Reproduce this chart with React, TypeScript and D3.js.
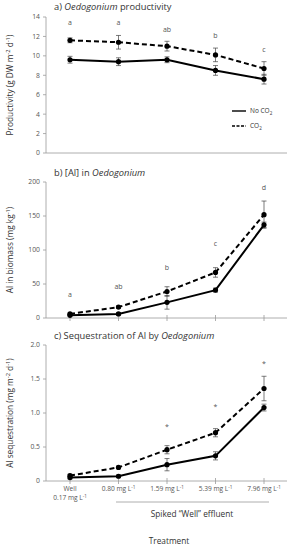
import React from "react";
import * as d3 from "d3";

const treatments = ["Well", "0.80", "1.59", "5.39", "7.96"];
const tickTop = ["Well", "0.80 mg L", "1.59 mg L", "5.39 mg L", "7.96 mg L"];

// a) productivity (g DW m-2 d-1)
const prodNo = [9.6, 9.4, 9.6, 8.5, 7.6];
const prodNoErr = [0.35, 0.4, 0.3, 0.5, 0.5];
const prodCo2 = [11.6, 11.4, 11.0, 10.1, 8.7];
const prodCo2Err = [0.25, 0.7, 0.5, 0.7, 0.7];
const prodLetters = ["a", "a", "ab", "b", "c"];
const prodLetterY = [13.2, 13.2, 12.5, 11.8, 10.4];

// b) Al in biomass (mg kg-1)
const alNo = [4, 6, 23, 41, 137];
const alNoErr = [1, 2, 10, 3, 4];
const alCo2 = [6, 16, 39, 67, 152];
const alCo2Err = [1, 2, 7, 7, 20];
const alLetters = ["a", "ab", "b", "c", "d"];
const alLetterY = [31, 43, 71, 106, 188];

// c) sequestration (mg m-2 d-1)
const seqNo = [0.05, 0.07, 0.24, 0.37, 1.08];
const seqNoErr = [0.02, 0.02, 0.09, 0.06, 0.05];
const seqCo2 = [0.08, 0.2, 0.46, 0.71, 1.36];
const seqCo2Err = [0.02, 0.02, 0.06, 0.06, 0.18];
const seqStars = ["", "", "*", "*", "*"];
const seqStarY = [0, 0, 0.76, 1.06, 1.69];

const W = 293;
const H = 550;
const left = 46;
const right = 287;
const font = "'Open Sans', 'Liberation Sans', sans-serif";
const grey = "#9a9a9a";
const txt = "#555";

const x = d3.scalePoint<string>().domain(treatments).range([70, 264]);

type PanelProps = {
  title: React.ReactNode;
  ylabel: React.ReactNode;
  y: d3.ScaleLinear<number, number>;
  ticks: number[];
  fmt: (v: number) => string;
  no: number[];
  noErr: number[];
  co2: number[];
  co2Err: number[];
  labels: string[];
  labelY: number[];
  titleY: number;
  xTicks: boolean;
};

function Panel(p: PanelProps) {
  const [y0, y1] = p.y.range();
  const line = (vals: number[]) =>
    d3
      .line<number>()
      .x((_, i) => x(treatments[i])!)
      .y((v) => p.y(v))(vals)!;
  const errs = (vals: number[], err: number[]) =>
    vals.map((v, i) => {
      const cx = x(treatments[i])!;
      const a = p.y(v + err[i]);
      const b = p.y(v - err[i]);
      return (
        <g key={i} stroke="#444" strokeWidth={0.7}>
          <line x1={cx} x2={cx} y1={a} y2={b} />
          <line x1={cx - 2.5} x2={cx + 2.5} y1={a} y2={a} />
          <line x1={cx - 2.5} x2={cx + 2.5} y1={b} y2={b} />
        </g>
      );
    });
  return (
    <g>
      <text x={54} y={p.titleY} fontSize={9.3} fill="#333">
        {p.title}
      </text>
      <line x1={left} x2={left} y1={y0} y2={y1} stroke={grey} strokeWidth={0.8} />
      <line x1={left} x2={right} y1={y0} y2={y0} stroke={grey} strokeWidth={0.8} />
      {p.ticks.map((t) => (
        <g key={t}>
          <line x1={left - 3} x2={left} y1={p.y(t)} y2={p.y(t)} stroke={grey} strokeWidth={0.8} />
          <text x={left - 6} y={p.y(t)} dy="0.35em" textAnchor="end" fontSize={6.8} fill={txt}>
            {p.fmt(t)}
          </text>
        </g>
      ))}
      {p.xTicks &&
        treatments.map((t) => (
          <line key={t} x1={x(t)!} x2={x(t)!} y1={y0 - 3} y2={y0 + 3} stroke={grey} strokeWidth={0.8} />
        ))}
      <g transform={`translate(13,${(y0 + y1) / 2}) rotate(-90)`}>
        <text textAnchor="middle" fontSize={8.3} fill="#333">
          {p.ylabel}
        </text>
      </g>
      {errs(p.no, p.noErr)}
      {errs(p.co2, p.co2Err)}
      <path d={line(p.no)} fill="none" stroke="#000" strokeWidth={2} />
      <path d={line(p.co2)} fill="none" stroke="#000" strokeWidth={2} strokeDasharray="5,3" />
      {p.no.map((v, i) => (
        <circle key={"n" + i} cx={x(treatments[i])!} cy={p.y(v)} r={2.6} fill="#000" />
      ))}
      {p.co2.map((v, i) => (
        <circle key={"c" + i} cx={x(treatments[i])!} cy={p.y(v)} r={2.6} fill="#000" />
      ))}
      {p.labels.map((l, i) =>
        l ? (
          <text key={"l" + i} x={x(treatments[i])!} y={p.y(p.labelY[i])} textAnchor="middle" fontSize={7} fill={txt}>
            {l}
          </text>
        ) : null
      )}
    </g>
  );
}

export default function App() {
  const yA = d3.scaleLinear().domain([0, 14]).range([153, 17]);
  const yB = d3.scaleLinear().domain([0, 200]).range([318, 182]);
  const yC = d3.scaleLinear().domain([0, 2]).range([481, 345]);

  return (
    <svg
      width={W}
      height={H}
      style={{ position: "absolute", left: 0, top: 0, background: "#fff" }}
      fontFamily={font}
    >
      <Panel
        title={<>a) <tspan fontStyle="italic">Oedogonium</tspan> productivity</>}
        ylabel={
          <>
            Productivity (g DW m<tspan fontSize="0.7em" dy={-3}>-2</tspan>
            <tspan dy={3}> d</tspan>
            <tspan fontSize="0.7em" dy={-3}>-1</tspan>
            <tspan dy={3}>)</tspan>
          </>
        }
        y={yA}
        ticks={d3.range(0, 15, 2)}
        fmt={(v) => String(v)}
        no={prodNo}
        noErr={prodNoErr}
        co2={prodCo2}
        co2Err={prodCo2Err}
        labels={prodLetters}
        labelY={prodLetterY}
        titleY={10}
        xTicks={false}
      />
      {/* legend */}
      <line x1={232} x2={246} y1={111} y2={111} stroke="#000" strokeWidth={1.4} />
      <text x={250} y={111} dy="0.35em" fontSize={6.5} fill="#333">
        No CO<tspan fontSize="0.7em" dy={1.5}>2</tspan>
      </text>
      <line x1={232} x2={246} y1={126} y2={126} stroke="#000" strokeWidth={1.4} strokeDasharray="3,1.5" />
      <text x={250} y={126} dy="0.35em" fontSize={6.5} fill="#333">
        CO<tspan fontSize="0.7em" dy={1.5}>2</tspan>
      </text>

      <Panel
        title={<>b) [Al] in <tspan fontStyle="italic">Oedogonium</tspan></>}
        ylabel={
          <>
            Al in biomass (mg kg<tspan fontSize="0.7em" dy={-3}>-1</tspan>
            <tspan dy={3}>)</tspan>
          </>
        }
        y={yB}
        ticks={d3.range(0, 201, 50)}
        fmt={(v) => String(v)}
        no={alNo}
        noErr={alNoErr}
        co2={alCo2}
        co2Err={alCo2Err}
        labels={alLetters}
        labelY={alLetterY}
        titleY={176}
        xTicks={true}
      />

      <Panel
        title={<>c) Sequestration of Al by <tspan fontStyle="italic">Oedogonium</tspan></>}
        ylabel={
          <>
            Al sequestration (mg m<tspan fontSize="0.7em" dy={-3}>-2</tspan>
            <tspan dy={3}> d</tspan>
            <tspan fontSize="0.7em" dy={-3}>-1</tspan>
            <tspan dy={3}>)</tspan>
          </>
        }
        y={yC}
        ticks={[0, 0.5, 1, 1.5, 2]}
        fmt={(v) => (v === 0 ? "0" : v.toFixed(1))}
        no={seqNo}
        noErr={seqNoErr}
        co2={seqCo2}
        co2Err={seqCo2Err}
        labels={seqStars}
        labelY={seqStarY}
        titleY={339}
        xTicks={true}
      />
      {/* x tick labels */}
      {treatments.map((t, i) => (
        <text key={t} x={x(t)!} y={491} textAnchor="middle" fontSize={6.6} fill={txt}>
          {i === 0 ? (
            "Well"
          ) : (
            <>
              {tickTop[i]}
              <tspan fontSize="0.7em" dy={-2.5}>-1</tspan>
            </>
          )}
        </text>
      ))}
      <text x={x(treatments[0])!} y={500} textAnchor="middle" fontSize={6.6} fill={txt}>
        0.17 mg L<tspan fontSize="0.7em" dy={-2.5}>-1</tspan>
      </text>
      <line x1={116} x2={269} y1={502} y2={502} stroke={grey} strokeWidth={0.8} />
      <text x={192} y={517} textAnchor="middle" fontSize={8.3} fill="#333">
        Spiked “Well” effluent
      </text>
      <text x={169} y={544} textAnchor="middle" fontSize={8.3} fill="#333">
        Treatment
      </text>
    </svg>
  );
}
